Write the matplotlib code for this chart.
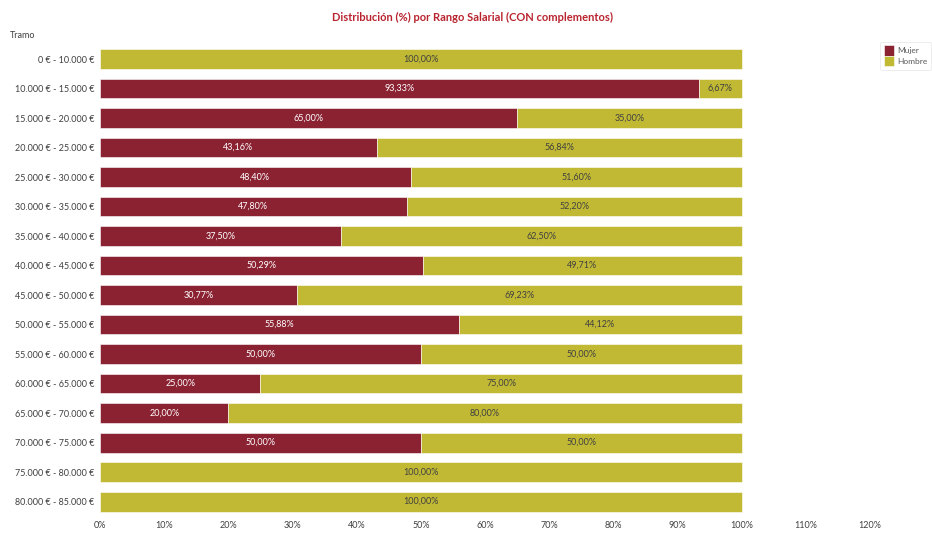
import matplotlib.pyplot as plt
import numpy as np
from matplotlib.ticker import FuncFormatter

plt.rcParams['font.family'] = ['Lato', 'DejaVu Sans']

# datos
tramos = ["0 € - 10.000 €", "10.000 € - 15.000 €", "15.000 € - 20.000 €",
          "20.000 € - 25.000 €", "25.000 € - 30.000 €", "30.000 € - 35.000 €",
          "35.000 € - 40.000 €", "40.000 € - 45.000 €", "45.000 € - 50.000 €",
          "50.000 € - 55.000 €", "55.000 € - 60.000 €", "60.000 € - 65.000 €",
          "65.000 € - 70.000 €", "70.000 € - 75.000 €", "75.000 € - 80.000 €",
          "80.000 € - 85.000 €"]
mujer = [0, 93.33, 65.00, 43.16, 48.40, 47.80, 37.50, 50.29, 30.77, 55.88,
         50.00, 25.00, 20.00, 50.00, 0, 0]
hombre = [100.00, 6.67, 35.00, 56.84, 51.60, 52.20, 62.50, 49.71, 69.23, 44.12,
          50.00, 75.00, 80.00, 50.00, 100.00, 100.00]

c_mujer = "#8B2232"
c_hombre = "#C1B934"

fig = plt.figure(figsize=(9.32, 5.34), dpi=100)
ax = fig.add_axes([0.1073, 0.0330, 0.8262, 0.8840])

y = np.arange(len(tramos))
m = np.array(mujer) / 100
h = np.array(hombre) / 100
ax.barh(y, m, height=0.67, color=c_mujer, edgecolor="white", linewidth=0.4, label="Mujer")
ax.barh(y, h, left=m, height=0.67, color=c_hombre, edgecolor="white", linewidth=0.4, label="Hombre")

def fmt(v):
    return f"{v:.2f}%".replace(".", ",")

for i in range(len(tramos)):
    if mujer[i] > 0:
        ax.text(m[i] / 2, y[i], fmt(mujer[i]), ha="center", va="center",
                fontsize=6.5, color="white")
    if hombre[i] > 0:
        ax.text(m[i] + h[i] / 2, y[i], fmt(hombre[i]), ha="center", va="center",
                fontsize=6.5, color="#404040")

ax.set_xlim(0, 1.2)
ax.set_ylim(len(tramos) - 0.5, -0.5)
ax.set_xticks(np.arange(0, 1.21, 0.1))
ax.xaxis.set_major_formatter(FuncFormatter(lambda v, p: f"{v*100:.0f}%"))
ax.set_yticks(y)
ax.set_yticklabels(tramos)
ax.tick_params(axis="both", length=0, labelsize=6.5, labelcolor="#404040")
ax.tick_params(axis="x", pad=3)
ax.tick_params(axis="y", pad=4)
for s in ax.spines.values():
    s.set_visible(False)

fig.text(0.507, 0.968, "Distribución (%) por Rango Salarial (CON complementos)",
         ha="center", va="center", fontsize=8, fontweight="bold", color="#B8232E")
fig.text(0.011, 0.934, "Tramo", ha="left", va="center", fontsize=6.5, color="#404040")

leg = ax.legend(loc="upper left", bbox_to_anchor=(0.940, 0.930), bbox_transform=fig.transFigure,
                fontsize=6, frameon=True, handlelength=1.2, handleheight=1.6,
                handletextpad=0.5, labelspacing=0.0, borderpad=0.4, labelcolor="#595959")
leg.get_frame().set_edgecolor("#E0E0E0")
leg.get_frame().set_linewidth(0.5)

plt.savefig("out.png", dpi=100)
plt.close()
